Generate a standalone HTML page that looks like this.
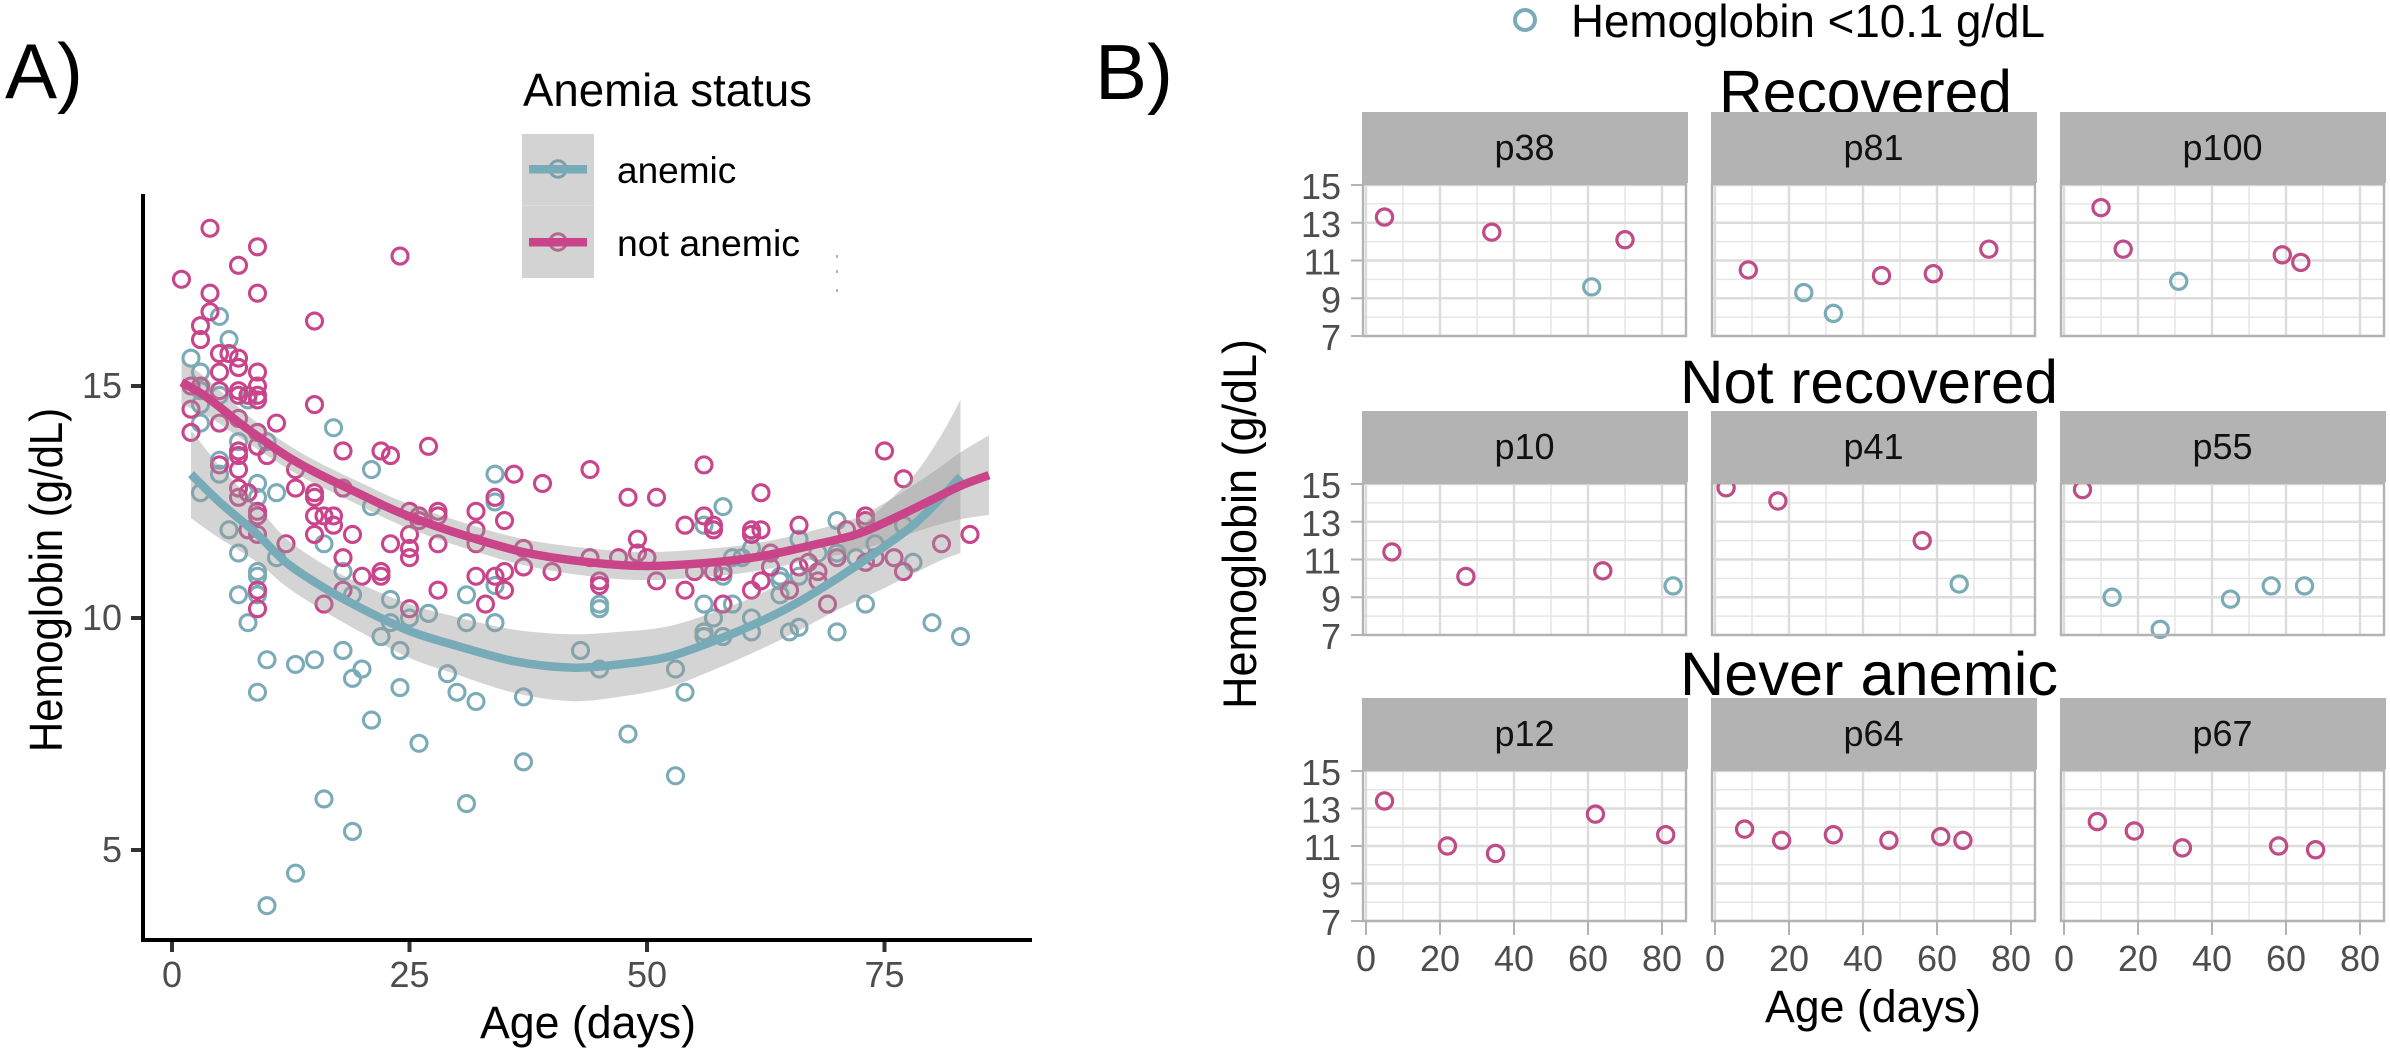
<!DOCTYPE html>
<html>
<head>
<meta charset="utf-8">
<title>Hemoglobin by age</title>
<style>
html,body{margin:0;padding:0;background:#fff;width:2390px;height:1054px;overflow:hidden}
svg{display:block}
text{font-family:"Liberation Sans",Arial,sans-serif}
</style>
</head>
<body>
<svg id="fig" xmlns="http://www.w3.org/2000/svg" width="2390" height="1054" viewBox="0 0 2390 1054">
  <rect width="2390" height="1054" fill="#ffffff"/>
  <text x="5" y="98" font-size="78" fill="#000">A)</text>
  <text x="1095" y="99" font-size="78" fill="#000">B)</text>

  <g id="panelA"></g>

  <text x="480" y="1038" font-size="45" textLength="216" lengthAdjust="spacingAndGlyphs" fill="#000">Age (days)</text>
  <text transform="translate(62,752) rotate(-90)" font-size="46" textLength="344" lengthAdjust="spacingAndGlyphs" fill="#000">Hemoglobin (g/dL)</text>

  <g>
    <text x="523" y="106" font-size="46" textLength="289" lengthAdjust="spacingAndGlyphs" fill="#000">Anemia status</text>
    <rect x="522" y="134" width="72" height="72" fill="#d3d3d3"/>
    <rect x="522" y="206" width="72" height="72" fill="#d3d3d3"/>
    <rect x="522" y="205" width="72" height="1" fill="#dcdcdc"/>
    <circle cx="558" cy="169" r="8.2" fill="none" stroke="#7f9fa8" stroke-width="3"/>
    <rect x="529" y="165" width="58" height="8.5" fill="#78abb8"/>
    <circle cx="558" cy="242" r="8.2" fill="none" stroke="#b06a90" stroke-width="3"/>
    <rect x="529" y="238" width="58" height="8.5" fill="#c94488"/>
    <text x="617" y="183" font-size="37" fill="#000">anemic</text>
    <text x="617" y="256" font-size="37" textLength="183" lengthAdjust="spacingAndGlyphs" fill="#000">not anemic</text>
  </g>

  <g fill="#b5b5b5">
    <rect x="836" y="255" width="2" height="3"/>
    <rect x="836" y="270" width="2" height="3"/>
    <rect x="836" y="289" width="2" height="3"/>
  </g>

  <g>
    <circle cx="1525" cy="20" r="10" fill="none" stroke="#7aabb7" stroke-width="4"/>
    <text x="1571" y="37" font-size="46" textLength="474" lengthAdjust="spacingAndGlyphs" fill="#000">Hemoglobin &lt;10.1 g/dL</text>
  </g>

  <text x="1719" y="113" font-size="61" textLength="293" lengthAdjust="spacingAndGlyphs" fill="#000">Recovered</text>
  <text x="1680" y="403" font-size="61" textLength="378" lengthAdjust="spacingAndGlyphs" fill="#000">Not recovered</text>
  <text x="1680" y="695" font-size="61" textLength="378" lengthAdjust="spacingAndGlyphs" fill="#000">Never anemic</text>

  <g id="panelB"></g>

  <text x="1765" y="1022" font-size="45" textLength="216" lengthAdjust="spacingAndGlyphs" fill="#000">Age (days)</text>
  <text transform="translate(1256,709) rotate(-90)" font-size="47" textLength="370" lengthAdjust="spacingAndGlyphs" fill="#000">Hemoglobin (g/dL)</text>
</svg>

<script>
// ---------- Panel A data ----------
const anemicAge = [5,6,2,3,3,5,8,3,3,17,10,7,5,5,9,9,11,3,21,21,34,34,16,6,7,11,18,9,9,9,7,19,23,27,31,34,45,8,25,23,31,34,22,24,18,15,13,10,20,19,9,24,29,30,32,37,43,45,53,54,21,26,37,48,53,31,16,19,13,10,58,56,70,58,59,60,68,70,72,74,78,66,64,64,64,59,56,57,61,73,45,56,56,58,61,65,66,70,80,83,61,77,66];
const anemicHb = [16.5,16.0,15.6,15.3,14.9,14.8,14.7,14.6,14.2,14.1,13.8,13.8,13.4,13.1,12.9,12.6,12.7,12.7,13.2,12.4,13.1,12.5,11.6,11.9,11.4,11.3,11.0,11.0,10.9,10.5,10.5,10.5,10.4,10.1,10.5,10.7,10.2,9.9,10.0,9.9,9.9,9.9,9.6,9.3,9.3,9.1,9.0,9.1,8.9,8.7,8.4,8.5,8.8,8.4,8.2,8.3,9.3,8.9,8.9,8.4,7.8,7.3,6.9,7.5,6.6,6.0,6.1,5.4,4.5,3.8,12.4,12.0,12.1,10.9,11.3,11.3,11.4,11.4,11.3,11.6,11.2,10.9,10.9,10.8,10.5,10.3,10.3,10.0,10.0,10.3,10.3,9.7,9.6,9.6,9.7,9.7,9.8,9.7,9.9,9.6,11.5,12.0,11.7];
const notAnemicAge = [4,9,7,1,4,9,4,3,3,24,15,5,6,7,7,5,9,9,5,3,2,7,7,8,9,9,15,2,5,2,11,7,9,9,10,7,7,5,7,18,22,23,27,36,39,44,13,13,15,15,18,7,7,8,25,26,26,28,28,32,34,35,32,25,15,16,17,17,15,19,23,25,25,28,32,37,37,9,9,8,9,12,18,32,34,35,35,28,40,44,47,45,33,20,22,22,18,16,25,9,9,75,77,56,62,48,51,54,56,57,57,61,61,62,66,73,73,71,49,49,50,45,51,54,55,57,58,63,63,66,67,70,73,74,76,77,81,84,68,68,62,61,65,58,69];
const notAnemicHb = [18.4,18.0,17.6,17.3,17.0,17.0,16.6,16.3,16.0,17.8,16.4,15.7,15.7,15.6,15.4,15.3,15.3,15.0,14.9,15.0,15.0,14.9,14.8,14.8,14.8,14.7,14.6,14.5,14.2,14.0,14.2,14.3,14.0,13.7,13.5,13.6,13.5,13.3,13.2,13.6,13.6,13.5,13.7,13.1,12.9,13.2,13.2,12.8,12.7,12.6,12.8,12.8,12.6,12.7,12.3,12.2,12.1,12.3,12.2,12.3,12.6,12.1,11.9,11.8,12.2,12.2,12.2,12.0,11.8,11.8,11.6,11.5,11.3,11.6,11.6,11.5,11.1,12.3,12.2,11.9,11.8,11.6,11.3,10.9,10.9,11.0,10.6,10.6,11.0,11.3,11.3,10.7,10.3,10.9,11.0,10.9,10.6,10.3,10.2,10.6,10.2,13.6,13.0,13.3,12.7,12.6,12.6,12.0,12.2,12.0,11.9,11.9,11.8,11.9,12.0,12.2,12.1,11.9,11.7,11.4,11.3,10.8,10.8,10.6,11.0,11.0,11.0,11.4,11.1,11.1,11.2,11.3,11.2,11.3,11.3,11.0,11.6,11.8,11.0,10.8,10.8,10.6,10.6,10.3,10.3];

const notAnemicFitAge = [1,3,5,7,9,12,15,19,24,30,37,44,50,57,62,67,72,76,80,83,86];
const notAnemicFit = [15.08,14.85,14.55,14.22,13.92,13.5,13.15,12.75,12.27,11.83,11.42,11.2,11.12,11.2,11.33,11.55,11.8,12.15,12.55,12.85,13.08];
const notAnemicUpper = [15.56,15.27,14.91,14.54,14.2,13.76,13.4,13.0,12.53,12.1,11.7,11.5,11.42,11.5,11.63,11.86,12.16,12.6,13.13,13.57,13.94];
const notAnemicLower = [14.6,14.43,14.19,13.9,13.64,13.24,12.9,12.5,12.01,11.56,11.14,10.9,10.82,10.9,11.03,11.24,11.44,11.7,11.97,12.13,12.22];

const anemicFitAge = [2,5,9,12,16,20,25,30,36,42,47,52,57,62,66,70,74,78,81,83];
const anemicFit = [13.1,12.5,11.8,11.2,10.65,10.2,9.72,9.4,9.07,8.93,9.0,9.15,9.5,9.93,10.35,10.85,11.4,12.0,12.6,13.05];
const anemicUpper = [14.05,13.28,12.4,11.72,11.15,10.72,10.3,10.02,9.75,9.65,9.7,9.81,10.12,10.53,10.97,11.53,12.25,13.05,13.95,14.7];
const anemicLower = [12.15,11.72,11.2,10.68,10.15,9.68,9.14,8.78,8.39,8.21,8.3,8.49,8.88,9.33,9.73,10.17,10.55,10.95,11.25,11.4];

const panelAXTicks = [0,25,50,75];
const panelAYTicks = [5,10,15];

// ---------- Panel B data ----------
const facetIds = ['p38','p81','p100','p10','p41','p55','p12','p64','p67'];
const facetAges = [[5,34,61,70],[9,24,32,45,59,74],[10,16,31,59,64],[7,27,64,83],[3,17,56,66],[5,13,26,45,56,65],[5,22,35,62,81],[8,18,32,47,61,67],[9,19,32,58,68]];
const facetHb = [[13.3,12.5,9.6,12.1],[10.5,9.3,8.2,10.2,10.3,11.6],[13.8,11.6,9.9,11.3,10.9],[11.4,10.1,10.4,9.6],[14.8,14.1,12.0,9.7],[14.7,9.0,7.3,8.9,9.6,9.6],[13.4,11.0,10.6,12.7,11.6],[11.9,11.3,11.6,11.3,11.5,11.3],[12.3,11.8,10.9,11.0,10.8]];
const facetXMajor = [0,20,40,60,80];
const facetXMinor = [10,30,50,70];
const facetYMajor = [7,9,11,13,15];
const facetYMinor = [8,10,12,14];
const anemiaThreshold = 10.1;

// ---------- helpers ----------
const NS = 'http://www.w3.org/2000/svg';
function mk(tag, parent, attrs) {
  const e = document.createElementNS(NS, tag);
  for (const k in attrs) e.setAttribute(k, attrs[k]);
  parent.appendChild(e);
  return e;
}
function smoothPath(pts, start) {
  let d = (start ? 'M' : 'L') + pts[0][0].toFixed(1) + ' ' + pts[0][1].toFixed(1);
  for (let i = 0; i < pts.length - 1; i++) {
    const p0 = pts[Math.max(i - 1, 0)], p1 = pts[i], p2 = pts[i + 1], p3 = pts[Math.min(i + 2, pts.length - 1)];
    const c1x = p1[0] + (p2[0] - p0[0]) / 6, c1y = p1[1] + (p2[1] - p0[1]) / 6;
    const c2x = p2[0] - (p3[0] - p1[0]) / 6, c2y = p2[1] - (p3[1] - p1[1]) / 6;
    d += 'C' + c1x.toFixed(1) + ' ' + c1y.toFixed(1) + ' ' + c2x.toFixed(1) + ' ' + c2y.toFixed(1) + ' ' + p2[0].toFixed(1) + ' ' + p2[1].toFixed(1);
  }
  return d;
}

// ---------- Panel A ----------
const TEAL = '#7aabb7', PINK = '#c9448a';
const gA = document.getElementById('panelA');
const xA = d => 172 + d * 9.5;
const yA = h => 386 + (15 - h) * 46.4;

function drawPointsA(ages, hbs, color, name) {
  ages.forEach((a, i) => {
    const c = mk('circle', gA, {cx: xA(a), cy: yA(hbs[i]), r: 8, fill: 'none', stroke: color, 'stroke-width': 3.1});
    
    
  });
}
drawPointsA(anemicAge, anemicHb, TEAL, 'anemic-point');
drawPointsA(notAnemicAge, notAnemicHb, PINK, 'not-anemic-point');

function drawRibbon(ages, up, lo, name) {
  const top = ages.map((a, i) => [xA(a), yA(up[i])]);
  const bot = ages.map((a, i) => [xA(a), yA(lo[i])]).reverse();
  const p = mk('path', gA, {d: smoothPath(top, true) + smoothPath(bot, false) + 'Z', fill: '#999999', 'fill-opacity': 0.42});
  
  
}
drawRibbon(anemicFitAge, anemicUpper, anemicLower, 'anemic-confidence-ribbon');
drawRibbon(notAnemicFitAge, notAnemicUpper, notAnemicLower, 'not-anemic-confidence-ribbon');

function drawFit(ages, vals, color, name) {
  const pts = ages.map((a, i) => [xA(a), yA(vals[i])]);
  const p = mk('path', gA, {d: smoothPath(pts, true), fill: 'none', stroke: color, 'stroke-width': 8.5});
  
  
}
drawFit(anemicFitAge, anemicFit, '#78abb8', 'anemic-fit-line');
drawFit(notAnemicFitAge, notAnemicFit, '#c94488', 'not-anemic-fit-line');

const axisLeft = mk('rect', gA, {x: 141, y: 194, width: 4, height: 748, fill: '#000'});


const axisBottom = mk('rect', gA, {x: 141, y: 938, width: 891, height: 4, fill: '#000'});



panelAXTicks.forEach(t => {
  const m = mk('rect', gA, {x: xA(t) - 2, y: 942, width: 4, height: 10, fill: '#333'});
  
  
  const l = mk('text', gA, {x: xA(t), y: 987, 'font-size': 36, 'text-anchor': 'middle', fill: '#4d4d4d'});
  
  
  l.textContent = t;
});
panelAYTicks.forEach(t => {
  const m = mk('rect', gA, {x: 131, y: yA(t) - 2, width: 10, height: 4, fill: '#333'});
  
  
  const l = mk('text', gA, {x: 122, y: yA(t) + 12, 'font-size': 36, 'text-anchor': 'end', fill: '#4d4d4d'});
  
  
  l.textContent = t;
});

// ---------- Panel B ----------
const gB = document.getElementById('panelB');
const colLeft = [1362, 1711, 2060];
const colWidth = 325;
const rowStripTop = [112, 411, 698];
const rowStripBottom = [183, 482, 769];
const rowBottom = [337, 636, 922];

facetIds.forEach((id, idx) => {
  const col = idx % 3, row = Math.floor(idx / 3);
  const L = colLeft[col], R = L + colWidth, T = rowStripBottom[row], B = rowBottom[row];
  const x = d => L + 4 + d * 3.7;
  const y = h => B - 1 - (h - 7) * ((B - 1 - T - 2) / 8);

  const panel = mk('g', gB, {});
  
  

  const bg = mk('rect', panel, {x: L, y: T, width: colWidth, height: B - T, fill: '#fff'});
  
  

  facetYMinor.forEach(v => {
    const g = mk('line', panel, {x1: L, x2: R, y1: y(v), y2: y(v), stroke: '#e6e6e6', 'stroke-width': 1.5});
    
    
  });
  facetXMinor.forEach(v => {
    const g = mk('line', panel, {x1: x(v), x2: x(v), y1: T, y2: B, stroke: '#e6e6e6', 'stroke-width': 1.5});
    
    
  });
  facetYMajor.forEach(v => {
    const g = mk('line', panel, {x1: L, x2: R, y1: y(v), y2: y(v), stroke: '#dcdcdc', 'stroke-width': 2.4});
    
    
  });
  facetXMajor.forEach(v => {
    const g = mk('line', panel, {x1: x(v), x2: x(v), y1: T, y2: B, stroke: '#dcdcdc', 'stroke-width': 2.4});
    
    
  });

  facetAges[idx].forEach((a, i) => {
    const h = facetHb[idx][i];
    const c = mk('circle', panel, {cx: x(a), cy: y(h), r: 8.1, fill: 'none', stroke: h < anemiaThreshold ? '#7aabb7' : '#bf4b87', 'stroke-width': 3.2});
    
    
  });

  const border = mk('rect', panel, {x: L + 1, y: T + 1, width: colWidth - 2, height: B - T - 2, fill: 'none', stroke: '#b3b3b3', 'stroke-width': 2.4});
  
  

  const strip = mk('rect', panel, {x: L, y: rowStripTop[row], width: colWidth + 1, height: T - rowStripTop[row], fill: '#b3b3b3'});
  
  
  const label = mk('text', panel, {x: L + colWidth / 2, y: rowStripTop[row] + 48, 'font-size': 36, 'text-anchor': 'middle', fill: '#111'});
  
  
  label.textContent = id;

  if (col === 0) {
    facetYMajor.forEach(v => {
      const t = mk('line', panel, {x1: L - 11, x2: L, y1: y(v), y2: y(v), stroke: '#b3b3b3', 'stroke-width': 2});
      
      
      const l = mk('text', panel, {x: L - 21, y: y(v) + 14, 'font-size': 36, 'text-anchor': 'end', fill: '#4d4d4d'});
      
      
      l.textContent = v;
    });
  }
  if (row === 2) {
    facetXMajor.forEach(v => {
      const t = mk('line', panel, {x1: x(v), x2: x(v), y1: B, y2: B + 13, stroke: '#b3b3b3', 'stroke-width': 2});
      
      
      const l = mk('text', panel, {x: x(v), y: 971, 'font-size': 36, 'text-anchor': 'middle', fill: '#4d4d4d'});
      
      
      l.textContent = v;
    });
  }
});
</script>
</body>
</html>
